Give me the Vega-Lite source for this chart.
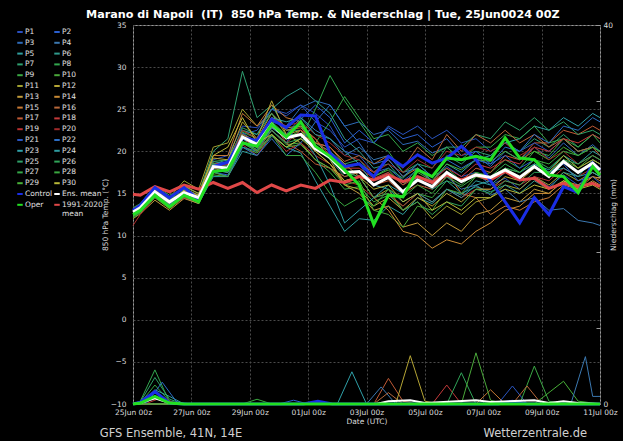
{
"$schema":"https://vega.github.io/schema/vega-lite/v6.json",
"width":467,"height":379,
"autosize":{"type":"none"},
"padding":{"left":133,"top":25,"right":23,"bottom":37},
"background":"#000000",
"title":{"text":"Marano di Napoli \u00a0(IT) \u00a0850 hPa Temp. & Niederschlag | Tue, 25Jun0024 00Z","anchor":"start","frame":"group","dx":-47,"dy":14,"offset":6,"fontSize":11.2,"fontWeight":"bold","color":"#ffffff","font":"DejaVu Sans","baseline":"alphabetic"},
"config":{
"font":"DejaVu Sans",
"view":{"stroke":"#9a9a9a","strokeWidth":1},
"axis":{"labelColor":"#dcdcdc","titleColor":"#dcdcdc","labelFont":"DejaVu Sans","titleFont":"DejaVu Sans","labelFontSize":7.5,"titleFontSize":7.5,"titleFontWeight":"normal","gridColor":"#4a4a4a","gridDash":[2,2],"gridWidth":1,"domain":false,"ticks":false,"tickColor":"#9a9a9a"},
"legend":{"orient":"none","legendY":3,"direction":"vertical","symbolLimit":0,"symbolType":"stroke","symbolSize":30,"symbolStrokeWidth":2,"labelFont":"DejaVu Sans","labelFontSize":7.5,"labelColor":"#e0e0e0","labelOffset":1,"rowPadding":2.8,"padding":0,"labelLimit":0}
},
"datasets":{
"mem":[
{"s":"P1","h":0,"v":12.5},{"s":"P1","h":6,"v":13.0},{"s":"P1","h":18,"v":15.0},{"s":"P1","h":30,"v":13.8},{"s":"P1","h":42,"v":15.3},{"s":"P1","h":54,"v":14.6},{"s":"P1","h":66,"v":19.0},{"s":"P1","h":78,"v":19.5},{"s":"P1","h":90,"v":23.0},{"s":"P1","h":102,"v":22.8},{"s":"P1","h":114,"v":25.0},{"s":"P1","h":126,"v":24.2},{"s":"P1","h":138,"v":25.5},{"s":"P1","h":150,"v":24.5},{"s":"P1","h":162,"v":23.0},{"s":"P1","h":174,"v":20.0},{"s":"P1","h":186,"v":19.5},{"s":"P1","h":198,"v":17.5},{"s":"P1","h":210,"v":18.0},{"s":"P1","h":222,"v":16.5},{"s":"P1","h":234,"v":17.8},{"s":"P1","h":246,"v":16.5},{"s":"P1","h":258,"v":18.2},{"s":"P1","h":270,"v":17.0},{"s":"P1","h":282,"v":17.5},{"s":"P1","h":294,"v":16.0},{"s":"P1","h":306,"v":16.8},{"s":"P1","h":318,"v":15.5},{"s":"P1","h":330,"v":17.0},{"s":"P1","h":342,"v":15.8},{"s":"P1","h":354,"v":17.2},{"s":"P1","h":366,"v":16.0},{"s":"P1","h":378,"v":17.5},{"s":"P1","h":384,"v":17.0},
{"s":"P2","h":0,"v":13.0},{"s":"P2","h":6,"v":13.5},{"s":"P2","h":18,"v":15.5},{"s":"P2","h":30,"v":14.2},{"s":"P2","h":42,"v":15.0},{"s":"P2","h":54,"v":14.3},{"s":"P2","h":66,"v":17.5},{"s":"P2","h":78,"v":17.2},{"s":"P2","h":90,"v":20.5},{"s":"P2","h":102,"v":20.0},{"s":"P2","h":114,"v":22.5},{"s":"P2","h":126,"v":21.0},{"s":"P2","h":138,"v":23.8},{"s":"P2","h":150,"v":25.5},{"s":"P2","h":162,"v":24.0},{"s":"P2","h":174,"v":21.0},{"s":"P2","h":186,"v":22.5},{"s":"P2","h":198,"v":21.0},{"s":"P2","h":210,"v":22.8},{"s":"P2","h":222,"v":21.5},{"s":"P2","h":234,"v":22.0},{"s":"P2","h":246,"v":20.5},{"s":"P2","h":258,"v":21.5},{"s":"P2","h":270,"v":19.5},{"s":"P2","h":282,"v":20.0},{"s":"P2","h":294,"v":18.5},{"s":"P2","h":306,"v":19.5},{"s":"P2","h":318,"v":18.0},{"s":"P2","h":330,"v":19.0},{"s":"P2","h":342,"v":17.5},{"s":"P2","h":354,"v":18.5},{"s":"P2","h":366,"v":16.5},{"s":"P2","h":378,"v":17.0},{"s":"P2","h":384,"v":16.2},
{"s":"P3","h":0,"v":12.9},{"s":"P3","h":6,"v":13.4},{"s":"P3","h":18,"v":15.4},{"s":"P3","h":30,"v":14.0},{"s":"P3","h":42,"v":15.5},{"s":"P3","h":54,"v":14.6},{"s":"P3","h":66,"v":18.8},{"s":"P3","h":78,"v":18.5},{"s":"P3","h":90,"v":22.2},{"s":"P3","h":102,"v":21.0},{"s":"P3","h":114,"v":23.5},{"s":"P3","h":126,"v":23.0},{"s":"P3","h":138,"v":25.2},{"s":"P3","h":150,"v":26.0},{"s":"P3","h":162,"v":25.5},{"s":"P3","h":174,"v":23.0},{"s":"P3","h":186,"v":23.5},{"s":"P3","h":198,"v":22.0},{"s":"P3","h":210,"v":22.5},{"s":"P3","h":222,"v":20.8},{"s":"P3","h":234,"v":21.2},{"s":"P3","h":246,"v":19.8},{"s":"P3","h":258,"v":20.5},{"s":"P3","h":270,"v":19.0},{"s":"P3","h":282,"v":19.5},{"s":"P3","h":294,"v":18.2},{"s":"P3","h":306,"v":20.0},{"s":"P3","h":318,"v":19.0},{"s":"P3","h":330,"v":20.5},{"s":"P3","h":342,"v":19.2},{"s":"P3","h":354,"v":21.0},{"s":"P3","h":366,"v":19.5},{"s":"P3","h":378,"v":20.8},{"s":"P3","h":384,"v":20.0},
{"s":"P4","h":0,"v":12.6},{"s":"P4","h":6,"v":13.2},{"s":"P4","h":18,"v":14.8},{"s":"P4","h":30,"v":13.6},{"s":"P4","h":42,"v":14.8},{"s":"P4","h":54,"v":14.2},{"s":"P4","h":66,"v":17.8},{"s":"P4","h":78,"v":17.5},{"s":"P4","h":90,"v":21.0},{"s":"P4","h":102,"v":20.2},{"s":"P4","h":114,"v":22.8},{"s":"P4","h":126,"v":22.0},{"s":"P4","h":138,"v":24.0},{"s":"P4","h":150,"v":22.5},{"s":"P4","h":162,"v":21.5},{"s":"P4","h":174,"v":19.5},{"s":"P4","h":186,"v":20.5},{"s":"P4","h":198,"v":19.0},{"s":"P4","h":210,"v":19.5},{"s":"P4","h":222,"v":17.5},{"s":"P4","h":234,"v":18.0},{"s":"P4","h":246,"v":16.5},{"s":"P4","h":258,"v":17.0},{"s":"P4","h":270,"v":15.5},{"s":"P4","h":282,"v":16.0},{"s":"P4","h":294,"v":14.8},{"s":"P4","h":306,"v":15.5},{"s":"P4","h":318,"v":14.0},{"s":"P4","h":330,"v":14.5},{"s":"P4","h":342,"v":13.0},{"s":"P4","h":354,"v":13.2},{"s":"P4","h":366,"v":11.8},{"s":"P4","h":378,"v":11.5},{"s":"P4","h":384,"v":11.2},
{"s":"P5","h":0,"v":12.3},{"s":"P5","h":6,"v":12.8},{"s":"P5","h":18,"v":14.6},{"s":"P5","h":30,"v":13.5},{"s":"P5","h":42,"v":14.5},{"s":"P5","h":54,"v":13.8},{"s":"P5","h":66,"v":17.0},{"s":"P5","h":78,"v":17.0},{"s":"P5","h":90,"v":20.0},{"s":"P5","h":102,"v":19.5},{"s":"P5","h":114,"v":21.8},{"s":"P5","h":126,"v":20.5},{"s":"P5","h":138,"v":19.8},{"s":"P5","h":150,"v":16.5},{"s":"P5","h":162,"v":13.5},{"s":"P5","h":174,"v":10.5},{"s":"P5","h":186,"v":12.0},{"s":"P5","h":198,"v":11.8},{"s":"P5","h":210,"v":13.5},{"s":"P5","h":222,"v":12.5},{"s":"P5","h":234,"v":14.5},{"s":"P5","h":246,"v":13.8},{"s":"P5","h":258,"v":15.5},{"s":"P5","h":270,"v":14.8},{"s":"P5","h":282,"v":16.5},{"s":"P5","h":294,"v":16.0},{"s":"P5","h":306,"v":17.5},{"s":"P5","h":318,"v":16.8},{"s":"P5","h":330,"v":18.5},{"s":"P5","h":342,"v":17.8},{"s":"P5","h":354,"v":19.5},{"s":"P5","h":366,"v":18.5},{"s":"P5","h":378,"v":20.0},{"s":"P5","h":384,"v":19.5},
{"s":"P6","h":0,"v":12.7},{"s":"P6","h":6,"v":13.2},{"s":"P6","h":18,"v":15.0},{"s":"P6","h":30,"v":13.9},{"s":"P6","h":42,"v":15.2},{"s":"P6","h":54,"v":14.5},{"s":"P6","h":66,"v":18.5},{"s":"P6","h":78,"v":19.0},{"s":"P6","h":90,"v":22.5},{"s":"P6","h":102,"v":22.0},{"s":"P6","h":114,"v":25.0},{"s":"P6","h":126,"v":26.5},{"s":"P6","h":138,"v":27.5},{"s":"P6","h":150,"v":26.0},{"s":"P6","h":162,"v":24.5},{"s":"P6","h":174,"v":21.5},{"s":"P6","h":186,"v":20.0},{"s":"P6","h":198,"v":18.0},{"s":"P6","h":210,"v":18.5},{"s":"P6","h":222,"v":16.5},{"s":"P6","h":234,"v":17.0},{"s":"P6","h":246,"v":15.5},{"s":"P6","h":258,"v":16.5},{"s":"P6","h":270,"v":15.0},{"s":"P6","h":282,"v":15.8},{"s":"P6","h":294,"v":15.2},{"s":"P6","h":306,"v":16.0},{"s":"P6","h":318,"v":15.0},{"s":"P6","h":330,"v":16.5},{"s":"P6","h":342,"v":15.5},{"s":"P6","h":354,"v":17.5},{"s":"P6","h":366,"v":17.0},{"s":"P6","h":378,"v":19.0},{"s":"P6","h":384,"v":18.5},
{"s":"P7","h":0,"v":12.8},{"s":"P7","h":6,"v":13.3},{"s":"P7","h":18,"v":15.5},{"s":"P7","h":30,"v":14.2},{"s":"P7","h":42,"v":15.8},{"s":"P7","h":54,"v":15.0},{"s":"P7","h":66,"v":20.0},{"s":"P7","h":78,"v":21.5},{"s":"P7","h":90,"v":29.5},{"s":"P7","h":102,"v":24.0},{"s":"P7","h":114,"v":25.5},{"s":"P7","h":126,"v":22.5},{"s":"P7","h":138,"v":23.0},{"s":"P7","h":150,"v":20.5},{"s":"P7","h":162,"v":19.0},{"s":"P7","h":174,"v":17.0},{"s":"P7","h":186,"v":17.5},{"s":"P7","h":198,"v":16.5},{"s":"P7","h":210,"v":17.5},{"s":"P7","h":222,"v":16.0},{"s":"P7","h":234,"v":18.0},{"s":"P7","h":246,"v":17.0},{"s":"P7","h":258,"v":19.5},{"s":"P7","h":270,"v":18.5},{"s":"P7","h":282,"v":20.0},{"s":"P7","h":294,"v":19.5},{"s":"P7","h":306,"v":21.0},{"s":"P7","h":318,"v":20.0},{"s":"P7","h":330,"v":21.5},{"s":"P7","h":342,"v":20.5},{"s":"P7","h":354,"v":22.0},{"s":"P7","h":366,"v":20.5},{"s":"P7","h":378,"v":22.0},{"s":"P7","h":384,"v":21.5},
{"s":"P8","h":0,"v":12.4},{"s":"P8","h":6,"v":12.9},{"s":"P8","h":18,"v":14.7},{"s":"P8","h":30,"v":13.5},{"s":"P8","h":42,"v":14.9},{"s":"P8","h":54,"v":14.2},{"s":"P8","h":66,"v":18.0},{"s":"P8","h":78,"v":18.2},{"s":"P8","h":90,"v":21.0},{"s":"P8","h":102,"v":20.0},{"s":"P8","h":114,"v":22.0},{"s":"P8","h":126,"v":20.5},{"s":"P8","h":138,"v":21.5},{"s":"P8","h":150,"v":25.0},{"s":"P8","h":162,"v":29.0},{"s":"P8","h":174,"v":26.0},{"s":"P8","h":186,"v":23.5},{"s":"P8","h":198,"v":21.0},{"s":"P8","h":210,"v":20.0},{"s":"P8","h":222,"v":17.5},{"s":"P8","h":234,"v":18.5},{"s":"P8","h":246,"v":17.0},{"s":"P8","h":258,"v":18.0},{"s":"P8","h":270,"v":16.5},{"s":"P8","h":282,"v":17.5},{"s":"P8","h":294,"v":17.0},{"s":"P8","h":306,"v":18.5},{"s":"P8","h":318,"v":17.5},{"s":"P8","h":330,"v":19.0},{"s":"P8","h":342,"v":18.0},{"s":"P8","h":354,"v":19.5},{"s":"P8","h":366,"v":18.0},{"s":"P8","h":378,"v":19.0},{"s":"P8","h":384,"v":18.5},
{"s":"P9","h":0,"v":13.1},{"s":"P9","h":6,"v":13.6},{"s":"P9","h":18,"v":15.3},{"s":"P9","h":30,"v":14.3},{"s":"P9","h":42,"v":15.3},{"s":"P9","h":54,"v":14.6},{"s":"P9","h":66,"v":18.5},{"s":"P9","h":78,"v":18.2},{"s":"P9","h":90,"v":21.5},{"s":"P9","h":102,"v":20.5},{"s":"P9","h":114,"v":22.5},{"s":"P9","h":126,"v":20.8},{"s":"P9","h":138,"v":21.0},{"s":"P9","h":150,"v":19.0},{"s":"P9","h":162,"v":17.5},{"s":"P9","h":174,"v":15.5},{"s":"P9","h":186,"v":15.8},{"s":"P9","h":198,"v":14.0},{"s":"P9","h":210,"v":14.8},{"s":"P9","h":222,"v":13.5},{"s":"P9","h":234,"v":15.0},{"s":"P9","h":246,"v":14.5},{"s":"P9","h":258,"v":16.5},{"s":"P9","h":270,"v":15.8},{"s":"P9","h":282,"v":17.0},{"s":"P9","h":294,"v":17.5},{"s":"P9","h":306,"v":19.0},{"s":"P9","h":318,"v":18.0},{"s":"P9","h":330,"v":20.0},{"s":"P9","h":342,"v":19.5},{"s":"P9","h":354,"v":21.5},{"s":"P9","h":366,"v":20.5},{"s":"P9","h":378,"v":22.0},{"s":"P9","h":384,"v":21.0},
{"s":"P10","h":0,"v":12.2},{"s":"P10","h":6,"v":12.8},{"s":"P10","h":18,"v":14.5},{"s":"P10","h":30,"v":13.2},{"s":"P10","h":42,"v":14.6},{"s":"P10","h":54,"v":14.0},{"s":"P10","h":66,"v":17.2},{"s":"P10","h":78,"v":17.0},{"s":"P10","h":90,"v":20.5},{"s":"P10","h":102,"v":19.8},{"s":"P10","h":114,"v":22.0},{"s":"P10","h":126,"v":20.5},{"s":"P10","h":138,"v":20.8},{"s":"P10","h":150,"v":19.0},{"s":"P10","h":162,"v":18.0},{"s":"P10","h":174,"v":16.0},{"s":"P10","h":186,"v":16.5},{"s":"P10","h":198,"v":13.0},{"s":"P10","h":210,"v":12.5},{"s":"P10","h":222,"v":11.0},{"s":"P10","h":234,"v":13.5},{"s":"P10","h":246,"v":13.0},{"s":"P10","h":258,"v":15.5},{"s":"P10","h":270,"v":15.0},{"s":"P10","h":282,"v":17.0},{"s":"P10","h":294,"v":16.5},{"s":"P10","h":306,"v":18.0},{"s":"P10","h":318,"v":17.0},{"s":"P10","h":330,"v":18.5},{"s":"P10","h":342,"v":17.5},{"s":"P10","h":354,"v":19.0},{"s":"P10","h":366,"v":18.0},{"s":"P10","h":378,"v":19.5},{"s":"P10","h":384,"v":19.0},
{"s":"P11","h":0,"v":12.6},{"s":"P11","h":6,"v":13.1},{"s":"P11","h":18,"v":15.8},{"s":"P11","h":30,"v":14.5},{"s":"P11","h":42,"v":16.5},{"s":"P11","h":54,"v":15.5},{"s":"P11","h":66,"v":20.5},{"s":"P11","h":78,"v":21.0},{"s":"P11","h":90,"v":25.0},{"s":"P11","h":102,"v":23.0},{"s":"P11","h":114,"v":24.5},{"s":"P11","h":126,"v":22.0},{"s":"P11","h":138,"v":21.0},{"s":"P11","h":150,"v":19.0},{"s":"P11","h":162,"v":18.0},{"s":"P11","h":174,"v":16.5},{"s":"P11","h":186,"v":17.0},{"s":"P11","h":198,"v":14.5},{"s":"P11","h":210,"v":15.5},{"s":"P11","h":222,"v":13.0},{"s":"P11","h":234,"v":14.0},{"s":"P11","h":246,"v":12.0},{"s":"P11","h":258,"v":13.5},{"s":"P11","h":270,"v":12.5},{"s":"P11","h":282,"v":14.0},{"s":"P11","h":294,"v":14.5},{"s":"P11","h":306,"v":16.0},{"s":"P11","h":318,"v":15.5},{"s":"P11","h":330,"v":17.0},{"s":"P11","h":342,"v":16.0},{"s":"P11","h":354,"v":17.5},{"s":"P11","h":366,"v":16.5},{"s":"P11","h":378,"v":17.5},{"s":"P11","h":384,"v":17.0},
{"s":"P12","h":0,"v":12.9},{"s":"P12","h":6,"v":13.4},{"s":"P12","h":18,"v":15.6},{"s":"P12","h":30,"v":14.4},{"s":"P12","h":42,"v":15.9},{"s":"P12","h":54,"v":15.0},{"s":"P12","h":66,"v":19.2},{"s":"P12","h":78,"v":19.0},{"s":"P12","h":90,"v":23.5},{"s":"P12","h":102,"v":21.5},{"s":"P12","h":114,"v":26.0},{"s":"P12","h":126,"v":22.0},{"s":"P12","h":138,"v":22.5},{"s":"P12","h":150,"v":20.0},{"s":"P12","h":162,"v":18.5},{"s":"P12","h":174,"v":16.0},{"s":"P12","h":186,"v":15.5},{"s":"P12","h":198,"v":13.5},{"s":"P12","h":210,"v":14.5},{"s":"P12","h":222,"v":13.0},{"s":"P12","h":234,"v":14.5},{"s":"P12","h":246,"v":13.5},{"s":"P12","h":258,"v":15.0},{"s":"P12","h":270,"v":14.0},{"s":"P12","h":282,"v":15.5},{"s":"P12","h":294,"v":15.5},{"s":"P12","h":306,"v":17.0},{"s":"P12","h":318,"v":16.5},{"s":"P12","h":330,"v":18.0},{"s":"P12","h":342,"v":17.5},{"s":"P12","h":354,"v":19.5},{"s":"P12","h":366,"v":18.0},{"s":"P12","h":378,"v":19.0},{"s":"P12","h":384,"v":18.5},
{"s":"P13","h":0,"v":12.0},{"s":"P13","h":6,"v":12.6},{"s":"P13","h":18,"v":14.2},{"s":"P13","h":30,"v":13.0},{"s":"P13","h":42,"v":14.4},{"s":"P13","h":54,"v":13.8},{"s":"P13","h":66,"v":17.5},{"s":"P13","h":78,"v":17.8},{"s":"P13","h":90,"v":22.5},{"s":"P13","h":102,"v":21.5},{"s":"P13","h":114,"v":24.5},{"s":"P13","h":126,"v":22.8},{"s":"P13","h":138,"v":23.0},{"s":"P13","h":150,"v":21.5},{"s":"P13","h":162,"v":19.0},{"s":"P13","h":174,"v":16.0},{"s":"P13","h":186,"v":15.0},{"s":"P13","h":198,"v":13.0},{"s":"P13","h":210,"v":13.5},{"s":"P13","h":222,"v":11.0},{"s":"P13","h":234,"v":11.5},{"s":"P13","h":246,"v":10.0},{"s":"P13","h":258,"v":11.5},{"s":"P13","h":270,"v":10.5},{"s":"P13","h":282,"v":12.5},{"s":"P13","h":294,"v":13.0},{"s":"P13","h":306,"v":14.5},{"s":"P13","h":318,"v":14.0},{"s":"P13","h":330,"v":15.5},{"s":"P13","h":342,"v":15.0},{"s":"P13","h":354,"v":16.5},{"s":"P13","h":366,"v":15.5},{"s":"P13","h":378,"v":16.5},{"s":"P13","h":384,"v":16.0},
{"s":"P14","h":0,"v":12.5},{"s":"P14","h":6,"v":13.0},{"s":"P14","h":18,"v":15.1},{"s":"P14","h":30,"v":13.9},{"s":"P14","h":42,"v":15.0},{"s":"P14","h":54,"v":14.3},{"s":"P14","h":66,"v":18.0},{"s":"P14","h":78,"v":17.5},{"s":"P14","h":90,"v":21.0},{"s":"P14","h":102,"v":20.5},{"s":"P14","h":114,"v":23.0},{"s":"P14","h":126,"v":21.5},{"s":"P14","h":138,"v":22.0},{"s":"P14","h":150,"v":21.0},{"s":"P14","h":162,"v":20.5},{"s":"P14","h":174,"v":18.5},{"s":"P14","h":186,"v":17.0},{"s":"P14","h":198,"v":14.5},{"s":"P14","h":210,"v":13.0},{"s":"P14","h":222,"v":10.5},{"s":"P14","h":234,"v":10.0},{"s":"P14","h":246,"v":8.5},{"s":"P14","h":258,"v":9.5},{"s":"P14","h":270,"v":9.0},{"s":"P14","h":282,"v":10.5},{"s":"P14","h":294,"v":11.5},{"s":"P14","h":306,"v":13.0},{"s":"P14","h":318,"v":13.5},{"s":"P14","h":330,"v":15.0},{"s":"P14","h":342,"v":15.0},{"s":"P14","h":354,"v":16.5},{"s":"P14","h":366,"v":16.0},{"s":"P14","h":378,"v":17.0},{"s":"P14","h":384,"v":16.8},
{"s":"P15","h":0,"v":13.2},{"s":"P15","h":6,"v":13.7},{"s":"P15","h":18,"v":15.7},{"s":"P15","h":30,"v":14.5},{"s":"P15","h":42,"v":15.6},{"s":"P15","h":54,"v":14.8},{"s":"P15","h":66,"v":19.5},{"s":"P15","h":78,"v":19.5},{"s":"P15","h":90,"v":24.5},{"s":"P15","h":102,"v":23.0},{"s":"P15","h":114,"v":25.5},{"s":"P15","h":126,"v":24.0},{"s":"P15","h":138,"v":23.5},{"s":"P15","h":150,"v":21.0},{"s":"P15","h":162,"v":20.0},{"s":"P15","h":174,"v":18.0},{"s":"P15","h":186,"v":18.5},{"s":"P15","h":198,"v":17.5},{"s":"P15","h":210,"v":19.0},{"s":"P15","h":222,"v":17.0},{"s":"P15","h":234,"v":18.0},{"s":"P15","h":246,"v":16.5},{"s":"P15","h":258,"v":17.5},{"s":"P15","h":270,"v":15.0},{"s":"P15","h":282,"v":14.5},{"s":"P15","h":294,"v":12.5},{"s":"P15","h":306,"v":13.5},{"s":"P15","h":318,"v":13.0},{"s":"P15","h":330,"v":14.0},{"s":"P15","h":342,"v":14.5},{"s":"P15","h":354,"v":16.0},{"s":"P15","h":366,"v":15.5},{"s":"P15","h":378,"v":17.0},{"s":"P15","h":384,"v":16.5},
{"s":"P16","h":0,"v":12.7},{"s":"P16","h":6,"v":13.2},{"s":"P16","h":18,"v":15.0},{"s":"P16","h":30,"v":13.8},{"s":"P16","h":42,"v":15.2},{"s":"P16","h":54,"v":14.4},{"s":"P16","h":66,"v":18.3},{"s":"P16","h":78,"v":18.6},{"s":"P16","h":90,"v":22.0},{"s":"P16","h":102,"v":21.2},{"s":"P16","h":114,"v":24.0},{"s":"P16","h":126,"v":22.5},{"s":"P16","h":138,"v":22.8},{"s":"P16","h":150,"v":21.0},{"s":"P16","h":162,"v":20.5},{"s":"P16","h":174,"v":18.8},{"s":"P16","h":186,"v":19.5},{"s":"P16","h":198,"v":18.5},{"s":"P16","h":210,"v":19.5},{"s":"P16","h":222,"v":18.0},{"s":"P16","h":234,"v":20.5},{"s":"P16","h":246,"v":19.0},{"s":"P16","h":258,"v":22.0},{"s":"P16","h":270,"v":20.0},{"s":"P16","h":282,"v":22.0},{"s":"P16","h":294,"v":21.0},{"s":"P16","h":306,"v":22.5},{"s":"P16","h":318,"v":21.0},{"s":"P16","h":330,"v":22.0},{"s":"P16","h":342,"v":20.5},{"s":"P16","h":354,"v":21.5},{"s":"P16","h":366,"v":20.0},{"s":"P16","h":378,"v":20.5},{"s":"P16","h":384,"v":19.5},
{"s":"P17","h":0,"v":12.4},{"s":"P17","h":6,"v":13.0},{"s":"P17","h":18,"v":15.2},{"s":"P17","h":30,"v":14.0},{"s":"P17","h":42,"v":15.0},{"s":"P17","h":54,"v":14.5},{"s":"P17","h":66,"v":18.5},{"s":"P17","h":78,"v":18.0},{"s":"P17","h":90,"v":21.0},{"s":"P17","h":102,"v":21.5},{"s":"P17","h":114,"v":23.5},{"s":"P17","h":126,"v":21.0},{"s":"P17","h":138,"v":20.0},{"s":"P17","h":150,"v":18.5},{"s":"P17","h":162,"v":18.0},{"s":"P17","h":174,"v":17.0},{"s":"P17","h":186,"v":17.5},{"s":"P17","h":198,"v":16.0},{"s":"P17","h":210,"v":16.5},{"s":"P17","h":222,"v":15.0},{"s":"P17","h":234,"v":16.0},{"s":"P17","h":246,"v":15.5},{"s":"P17","h":258,"v":17.0},{"s":"P17","h":270,"v":16.5},{"s":"P17","h":282,"v":18.0},{"s":"P17","h":294,"v":17.5},{"s":"P17","h":306,"v":19.5},{"s":"P17","h":318,"v":19.0},{"s":"P17","h":330,"v":21.0},{"s":"P17","h":342,"v":21.0},{"s":"P17","h":354,"v":22.5},{"s":"P17","h":366,"v":22.0},{"s":"P17","h":378,"v":23.0},{"s":"P17","h":384,"v":22.5},
{"s":"P18","h":0,"v":13.0},{"s":"P18","h":6,"v":13.5},{"s":"P18","h":18,"v":15.4},{"s":"P18","h":30,"v":14.1},{"s":"P18","h":42,"v":15.3},{"s":"P18","h":54,"v":14.8},{"s":"P18","h":66,"v":18.6},{"s":"P18","h":78,"v":18.4},{"s":"P18","h":90,"v":21.8},{"s":"P18","h":102,"v":20.0},{"s":"P18","h":114,"v":22.5},{"s":"P18","h":126,"v":21.0},{"s":"P18","h":138,"v":22.5},{"s":"P18","h":150,"v":21.5},{"s":"P18","h":162,"v":19.5},{"s":"P18","h":174,"v":18.0},{"s":"P18","h":186,"v":18.0},{"s":"P18","h":198,"v":16.8},{"s":"P18","h":210,"v":17.5},{"s":"P18","h":222,"v":16.0},{"s":"P18","h":234,"v":17.0},{"s":"P18","h":246,"v":16.5},{"s":"P18","h":258,"v":18.0},{"s":"P18","h":270,"v":17.0},{"s":"P18","h":282,"v":18.5},{"s":"P18","h":294,"v":18.0},{"s":"P18","h":306,"v":19.0},{"s":"P18","h":318,"v":18.5},{"s":"P18","h":330,"v":20.5},{"s":"P18","h":342,"v":20.0},{"s":"P18","h":354,"v":21.5},{"s":"P18","h":366,"v":21.0},{"s":"P18","h":378,"v":22.0},{"s":"P18","h":384,"v":21.5},
{"s":"P19","h":0,"v":11.2},{"s":"P19","h":6,"v":12.5},{"s":"P19","h":18,"v":14.5},{"s":"P19","h":30,"v":13.2},{"s":"P19","h":42,"v":14.5},{"s":"P19","h":54,"v":14.0},{"s":"P19","h":66,"v":17.5},{"s":"P19","h":78,"v":17.0},{"s":"P19","h":90,"v":20.8},{"s":"P19","h":102,"v":19.5},{"s":"P19","h":114,"v":22.0},{"s":"P19","h":126,"v":20.0},{"s":"P19","h":138,"v":21.0},{"s":"P19","h":150,"v":19.5},{"s":"P19","h":162,"v":18.5},{"s":"P19","h":174,"v":16.5},{"s":"P19","h":186,"v":16.0},{"s":"P19","h":198,"v":14.5},{"s":"P19","h":210,"v":15.0},{"s":"P19","h":222,"v":13.5},{"s":"P19","h":234,"v":15.0},{"s":"P19","h":246,"v":14.0},{"s":"P19","h":258,"v":15.5},{"s":"P19","h":270,"v":14.5},{"s":"P19","h":282,"v":15.5},{"s":"P19","h":294,"v":15.5},{"s":"P19","h":306,"v":16.5},{"s":"P19","h":318,"v":16.0},{"s":"P19","h":330,"v":17.0},{"s":"P19","h":342,"v":16.5},{"s":"P19","h":354,"v":18.0},{"s":"P19","h":366,"v":17.0},{"s":"P19","h":378,"v":18.0},{"s":"P19","h":384,"v":17.5},
{"s":"P20","h":0,"v":12.6},{"s":"P20","h":6,"v":13.2},{"s":"P20","h":18,"v":15.3},{"s":"P20","h":30,"v":14.1},{"s":"P20","h":42,"v":15.1},{"s":"P20","h":54,"v":14.6},{"s":"P20","h":66,"v":18.0},{"s":"P20","h":78,"v":18.5},{"s":"P20","h":90,"v":22.5},{"s":"P20","h":102,"v":21.5},{"s":"P20","h":114,"v":24.0},{"s":"P20","h":126,"v":23.0},{"s":"P20","h":138,"v":23.5},{"s":"P20","h":150,"v":22.0},{"s":"P20","h":162,"v":21.0},{"s":"P20","h":174,"v":19.5},{"s":"P20","h":186,"v":19.0},{"s":"P20","h":198,"v":17.5},{"s":"P20","h":210,"v":18.5},{"s":"P20","h":222,"v":17.5},{"s":"P20","h":234,"v":19.0},{"s":"P20","h":246,"v":18.0},{"s":"P20","h":258,"v":20.0},{"s":"P20","h":270,"v":19.5},{"s":"P20","h":282,"v":20.5},{"s":"P20","h":294,"v":20.0},{"s":"P20","h":306,"v":21.0},{"s":"P20","h":318,"v":19.5},{"s":"P20","h":330,"v":20.5},{"s":"P20","h":342,"v":19.0},{"s":"P20","h":354,"v":20.0},{"s":"P20","h":366,"v":18.5},{"s":"P20","h":378,"v":19.5},{"s":"P20","h":384,"v":19.0},
{"s":"P21","h":0,"v":12.8},{"s":"P21","h":6,"v":13.3},{"s":"P21","h":18,"v":15.1},{"s":"P21","h":30,"v":13.8},{"s":"P21","h":42,"v":15.0},{"s":"P21","h":54,"v":14.4},{"s":"P21","h":66,"v":18.4},{"s":"P21","h":78,"v":18.8},{"s":"P21","h":90,"v":22.0},{"s":"P21","h":102,"v":22.5},{"s":"P21","h":114,"v":25.0},{"s":"P21","h":126,"v":24.5},{"s":"P21","h":138,"v":25.5},{"s":"P21","h":150,"v":23.5},{"s":"P21","h":162,"v":22.5},{"s":"P21","h":174,"v":20.5},{"s":"P21","h":186,"v":21.5},{"s":"P21","h":198,"v":21.0},{"s":"P21","h":210,"v":23.0},{"s":"P21","h":222,"v":22.0},{"s":"P21","h":234,"v":23.0},{"s":"P21","h":246,"v":21.5},{"s":"P21","h":258,"v":22.5},{"s":"P21","h":270,"v":21.0},{"s":"P21","h":282,"v":21.5},{"s":"P21","h":294,"v":20.0},{"s":"P21","h":306,"v":21.0},{"s":"P21","h":318,"v":20.0},{"s":"P21","h":330,"v":21.0},{"s":"P21","h":342,"v":20.0},{"s":"P21","h":354,"v":21.5},{"s":"P21","h":366,"v":20.0},{"s":"P21","h":378,"v":20.5},{"s":"P21","h":384,"v":20.0},
{"s":"P22","h":0,"v":12.5},{"s":"P22","h":6,"v":13.0},{"s":"P22","h":18,"v":14.9},{"s":"P22","h":30,"v":13.7},{"s":"P22","h":42,"v":14.8},{"s":"P22","h":54,"v":14.1},{"s":"P22","h":66,"v":17.6},{"s":"P22","h":78,"v":17.0},{"s":"P22","h":90,"v":20.5},{"s":"P22","h":102,"v":19.5},{"s":"P22","h":114,"v":21.5},{"s":"P22","h":126,"v":19.5},{"s":"P22","h":138,"v":21.0},{"s":"P22","h":150,"v":23.5},{"s":"P22","h":162,"v":25.5},{"s":"P22","h":174,"v":23.0},{"s":"P22","h":186,"v":21.0},{"s":"P22","h":198,"v":18.5},{"s":"P22","h":210,"v":19.0},{"s":"P22","h":222,"v":17.0},{"s":"P22","h":234,"v":18.5},{"s":"P22","h":246,"v":17.0},{"s":"P22","h":258,"v":19.0},{"s":"P22","h":270,"v":18.0},{"s":"P22","h":282,"v":19.0},{"s":"P22","h":294,"v":18.5},{"s":"P22","h":306,"v":20.5},{"s":"P22","h":318,"v":20.0},{"s":"P22","h":330,"v":22.0},{"s":"P22","h":342,"v":21.0},{"s":"P22","h":354,"v":23.0},{"s":"P22","h":366,"v":22.5},{"s":"P22","h":378,"v":24.0},{"s":"P22","h":384,"v":23.5},
{"s":"P23","h":0,"v":13.0},{"s":"P23","h":6,"v":13.4},{"s":"P23","h":18,"v":15.3},{"s":"P23","h":30,"v":14.0},{"s":"P23","h":42,"v":15.4},{"s":"P23","h":54,"v":14.7},{"s":"P23","h":66,"v":18.2},{"s":"P23","h":78,"v":18.0},{"s":"P23","h":90,"v":21.5},{"s":"P23","h":102,"v":20.5},{"s":"P23","h":114,"v":22.8},{"s":"P23","h":126,"v":21.5},{"s":"P23","h":138,"v":22.0},{"s":"P23","h":150,"v":19.5},{"s":"P23","h":162,"v":16.0},{"s":"P23","h":174,"v":11.5},{"s":"P23","h":186,"v":13.0},{"s":"P23","h":198,"v":14.5},{"s":"P23","h":210,"v":16.0},{"s":"P23","h":222,"v":15.0},{"s":"P23","h":234,"v":17.0},{"s":"P23","h":246,"v":16.5},{"s":"P23","h":258,"v":18.5},{"s":"P23","h":270,"v":17.5},{"s":"P23","h":282,"v":19.0},{"s":"P23","h":294,"v":19.5},{"s":"P23","h":306,"v":21.0},{"s":"P23","h":318,"v":21.5},{"s":"P23","h":330,"v":23.0},{"s":"P23","h":342,"v":22.5},{"s":"P23","h":354,"v":24.0},{"s":"P23","h":366,"v":23.0},{"s":"P23","h":378,"v":24.5},{"s":"P23","h":384,"v":24.0},
{"s":"P24","h":0,"v":12.6},{"s":"P24","h":6,"v":13.1},{"s":"P24","h":18,"v":14.9},{"s":"P24","h":30,"v":13.6},{"s":"P24","h":42,"v":14.9},{"s":"P24","h":54,"v":14.3},{"s":"P24","h":66,"v":17.8},{"s":"P24","h":78,"v":17.5},{"s":"P24","h":90,"v":20.8},{"s":"P24","h":102,"v":21.0},{"s":"P24","h":114,"v":24.0},{"s":"P24","h":126,"v":23.5},{"s":"P24","h":138,"v":24.0},{"s":"P24","h":150,"v":22.0},{"s":"P24","h":162,"v":21.5},{"s":"P24","h":174,"v":20.0},{"s":"P24","h":186,"v":18.5},{"s":"P24","h":198,"v":16.0},{"s":"P24","h":210,"v":15.5},{"s":"P24","h":222,"v":14.0},{"s":"P24","h":234,"v":15.0},{"s":"P24","h":246,"v":14.0},{"s":"P24","h":258,"v":15.5},{"s":"P24","h":270,"v":14.5},{"s":"P24","h":282,"v":16.0},{"s":"P24","h":294,"v":16.5},{"s":"P24","h":306,"v":18.0},{"s":"P24","h":318,"v":17.5},{"s":"P24","h":330,"v":18.5},{"s":"P24","h":342,"v":17.5},{"s":"P24","h":354,"v":18.0},{"s":"P24","h":366,"v":17.0},{"s":"P24","h":378,"v":17.5},{"s":"P24","h":384,"v":17.0},
{"s":"P25","h":0,"v":12.3},{"s":"P25","h":6,"v":12.9},{"s":"P25","h":18,"v":14.8},{"s":"P25","h":30,"v":13.7},{"s":"P25","h":42,"v":15.0},{"s":"P25","h":54,"v":14.4},{"s":"P25","h":66,"v":18.2},{"s":"P25","h":78,"v":18.3},{"s":"P25","h":90,"v":22.8},{"s":"P25","h":102,"v":22.0},{"s":"P25","h":114,"v":24.5},{"s":"P25","h":126,"v":22.5},{"s":"P25","h":138,"v":22.5},{"s":"P25","h":150,"v":21.0},{"s":"P25","h":162,"v":20.0},{"s":"P25","h":174,"v":18.5},{"s":"P25","h":186,"v":19.0},{"s":"P25","h":198,"v":17.0},{"s":"P25","h":210,"v":18.0},{"s":"P25","h":222,"v":16.8},{"s":"P25","h":234,"v":18.5},{"s":"P25","h":246,"v":18.0},{"s":"P25","h":258,"v":20.5},{"s":"P25","h":270,"v":20.5},{"s":"P25","h":282,"v":22.0},{"s":"P25","h":294,"v":21.5},{"s":"P25","h":306,"v":23.5},{"s":"P25","h":318,"v":22.5},{"s":"P25","h":330,"v":24.0},{"s":"P25","h":342,"v":22.5},{"s":"P25","h":354,"v":23.5},{"s":"P25","h":366,"v":22.0},{"s":"P25","h":378,"v":22.5},{"s":"P25","h":384,"v":22.0},
{"s":"P26","h":0,"v":12.9},{"s":"P26","h":6,"v":13.4},{"s":"P26","h":18,"v":15.2},{"s":"P26","h":30,"v":14.1},{"s":"P26","h":42,"v":15.1},{"s":"P26","h":54,"v":14.6},{"s":"P26","h":66,"v":18.6},{"s":"P26","h":78,"v":18.0},{"s":"P26","h":90,"v":21.2},{"s":"P26","h":102,"v":20.2},{"s":"P26","h":114,"v":22.5},{"s":"P26","h":126,"v":21.0},{"s":"P26","h":138,"v":21.5},{"s":"P26","h":150,"v":20.5},{"s":"P26","h":162,"v":19.0},{"s":"P26","h":174,"v":17.5},{"s":"P26","h":186,"v":17.0},{"s":"P26","h":198,"v":14.5},{"s":"P26","h":210,"v":15.0},{"s":"P26","h":222,"v":13.0},{"s":"P26","h":234,"v":14.0},{"s":"P26","h":246,"v":12.5},{"s":"P26","h":258,"v":14.0},{"s":"P26","h":270,"v":13.5},{"s":"P26","h":282,"v":15.5},{"s":"P26","h":294,"v":15.0},{"s":"P26","h":306,"v":16.5},{"s":"P26","h":318,"v":16.0},{"s":"P26","h":330,"v":17.5},{"s":"P26","h":342,"v":17.5},{"s":"P26","h":354,"v":19.0},{"s":"P26","h":366,"v":18.5},{"s":"P26","h":378,"v":19.5},{"s":"P26","h":384,"v":19.0},
{"s":"P27","h":0,"v":13.3},{"s":"P27","h":6,"v":13.8},{"s":"P27","h":18,"v":15.9},{"s":"P27","h":30,"v":14.8},{"s":"P27","h":42,"v":15.5},{"s":"P27","h":54,"v":14.8},{"s":"P27","h":66,"v":18.8},{"s":"P27","h":78,"v":19.0},{"s":"P27","h":90,"v":22.3},{"s":"P27","h":102,"v":21.5},{"s":"P27","h":114,"v":23.5},{"s":"P27","h":126,"v":22.0},{"s":"P27","h":138,"v":22.0},{"s":"P27","h":150,"v":21.0},{"s":"P27","h":162,"v":23.5},{"s":"P27","h":174,"v":26.5},{"s":"P27","h":186,"v":24.0},{"s":"P27","h":198,"v":21.5},{"s":"P27","h":210,"v":22.0},{"s":"P27","h":222,"v":20.0},{"s":"P27","h":234,"v":21.0},{"s":"P27","h":246,"v":19.5},{"s":"P27","h":258,"v":20.5},{"s":"P27","h":270,"v":19.0},{"s":"P27","h":282,"v":20.5},{"s":"P27","h":294,"v":20.5},{"s":"P27","h":306,"v":22.0},{"s":"P27","h":318,"v":21.5},{"s":"P27","h":330,"v":23.0},{"s":"P27","h":342,"v":21.0},{"s":"P27","h":354,"v":21.5},{"s":"P27","h":366,"v":20.0},{"s":"P27","h":378,"v":20.5},{"s":"P27","h":384,"v":20.0},
{"s":"P28","h":0,"v":12.1},{"s":"P28","h":6,"v":12.7},{"s":"P28","h":18,"v":14.6},{"s":"P28","h":30,"v":13.4},{"s":"P28","h":42,"v":14.8},{"s":"P28","h":54,"v":14.1},{"s":"P28","h":66,"v":17.5},{"s":"P28","h":78,"v":17.0},{"s":"P28","h":90,"v":21.0},{"s":"P28","h":102,"v":20.0},{"s":"P28","h":114,"v":22.0},{"s":"P28","h":126,"v":19.5},{"s":"P28","h":138,"v":19.5},{"s":"P28","h":150,"v":17.5},{"s":"P28","h":162,"v":15.0},{"s":"P28","h":174,"v":13.5},{"s":"P28","h":186,"v":14.5},{"s":"P28","h":198,"v":13.5},{"s":"P28","h":210,"v":15.5},{"s":"P28","h":222,"v":14.5},{"s":"P28","h":234,"v":16.0},{"s":"P28","h":246,"v":15.0},{"s":"P28","h":258,"v":17.0},{"s":"P28","h":270,"v":16.0},{"s":"P28","h":282,"v":17.5},{"s":"P28","h":294,"v":17.0},{"s":"P28","h":306,"v":18.0},{"s":"P28","h":318,"v":17.5},{"s":"P28","h":330,"v":19.0},{"s":"P28","h":342,"v":18.5},{"s":"P28","h":354,"v":20.0},{"s":"P28","h":366,"v":19.5},{"s":"P28","h":378,"v":20.5},{"s":"P28","h":384,"v":20.0},
{"s":"P29","h":0,"v":12.7},{"s":"P29","h":6,"v":13.2},{"s":"P29","h":18,"v":15.3},{"s":"P29","h":30,"v":14.2},{"s":"P29","h":42,"v":15.2},{"s":"P29","h":54,"v":14.6},{"s":"P29","h":66,"v":18.4},{"s":"P29","h":78,"v":18.6},{"s":"P29","h":90,"v":22.0},{"s":"P29","h":102,"v":21.0},{"s":"P29","h":114,"v":23.0},{"s":"P29","h":126,"v":21.5},{"s":"P29","h":138,"v":22.5},{"s":"P29","h":150,"v":20.5},{"s":"P29","h":162,"v":19.5},{"s":"P29","h":174,"v":18.0},{"s":"P29","h":186,"v":18.5},{"s":"P29","h":198,"v":17.0},{"s":"P29","h":210,"v":17.8},{"s":"P29","h":222,"v":16.0},{"s":"P29","h":234,"v":17.5},{"s":"P29","h":246,"v":16.5},{"s":"P29","h":258,"v":18.5},{"s":"P29","h":270,"v":17.8},{"s":"P29","h":282,"v":19.0},{"s":"P29","h":294,"v":18.8},{"s":"P29","h":306,"v":20.0},{"s":"P29","h":318,"v":19.0},{"s":"P29","h":330,"v":20.0},{"s":"P29","h":342,"v":19.0},{"s":"P29","h":354,"v":20.5},{"s":"P29","h":366,"v":19.5},{"s":"P29","h":378,"v":20.5},{"s":"P29","h":384,"v":20.0},
{"s":"P30","h":0,"v":12.4},{"s":"P30","h":6,"v":13.0},{"s":"P30","h":18,"v":15.0},{"s":"P30","h":30,"v":13.8},{"s":"P30","h":42,"v":15.4},{"s":"P30","h":54,"v":14.8},{"s":"P30","h":66,"v":19.5},{"s":"P30","h":78,"v":20.5},{"s":"P30","h":90,"v":24.0},{"s":"P30","h":102,"v":21.0},{"s":"P30","h":114,"v":22.0},{"s":"P30","h":126,"v":20.5},{"s":"P30","h":138,"v":21.5},{"s":"P30","h":150,"v":20.0},{"s":"P30","h":162,"v":18.5},{"s":"P30","h":174,"v":16.5},{"s":"P30","h":186,"v":17.0},{"s":"P30","h":198,"v":15.5},{"s":"P30","h":210,"v":16.0},{"s":"P30","h":222,"v":14.0},{"s":"P30","h":234,"v":15.0},{"s":"P30","h":246,"v":13.0},{"s":"P30","h":258,"v":14.0},{"s":"P30","h":270,"v":13.0},{"s":"P30","h":282,"v":14.5},{"s":"P30","h":294,"v":14.5},{"s":"P30","h":306,"v":15.5},{"s":"P30","h":318,"v":15.0},{"s":"P30","h":330,"v":16.0},{"s":"P30","h":342,"v":15.5},{"s":"P30","h":354,"v":16.5},{"s":"P30","h":366,"v":15.5},{"s":"P30","h":378,"v":16.0},{"s":"P30","h":384,"v":15.5}
],
"main":[
{"s":"1991-2020 mean","h":0,"v":14.9},{"s":"1991-2020 mean","h":6,"v":14.8},{"s":"1991-2020 mean","h":18,"v":15.8},{"s":"1991-2020 mean","h":30,"v":15.2},{"s":"1991-2020 mean","h":42,"v":16.0},{"s":"1991-2020 mean","h":54,"v":15.5},{"s":"1991-2020 mean","h":66,"v":16.3},{"s":"1991-2020 mean","h":78,"v":15.6},{"s":"1991-2020 mean","h":90,"v":16.3},{"s":"1991-2020 mean","h":102,"v":15.1},{"s":"1991-2020 mean","h":114,"v":16.0},{"s":"1991-2020 mean","h":126,"v":15.3},{"s":"1991-2020 mean","h":138,"v":16.0},{"s":"1991-2020 mean","h":150,"v":15.6},{"s":"1991-2020 mean","h":162,"v":16.6},{"s":"1991-2020 mean","h":174,"v":16.3},{"s":"1991-2020 mean","h":186,"v":17.0},{"s":"1991-2020 mean","h":198,"v":16.6},{"s":"1991-2020 mean","h":210,"v":17.2},{"s":"1991-2020 mean","h":222,"v":16.4},{"s":"1991-2020 mean","h":234,"v":17.0},{"s":"1991-2020 mean","h":246,"v":16.3},{"s":"1991-2020 mean","h":258,"v":17.2},{"s":"1991-2020 mean","h":270,"v":16.6},{"s":"1991-2020 mean","h":282,"v":17.2},{"s":"1991-2020 mean","h":294,"v":16.6},{"s":"1991-2020 mean","h":306,"v":17.6},{"s":"1991-2020 mean","h":318,"v":16.6},{"s":"1991-2020 mean","h":330,"v":16.8},{"s":"1991-2020 mean","h":342,"v":15.6},{"s":"1991-2020 mean","h":354,"v":16.2},{"s":"1991-2020 mean","h":366,"v":15.8},{"s":"1991-2020 mean","h":378,"v":16.2},{"s":"1991-2020 mean","h":384,"v":15.8},
{"s":"Control","h":0,"v":13.0},{"s":"Control","h":6,"v":13.6},{"s":"Control","h":18,"v":15.7},{"s":"Control","h":30,"v":14.5},{"s":"Control","h":42,"v":15.7},{"s":"Control","h":54,"v":14.3},{"s":"Control","h":66,"v":18.2},{"s":"Control","h":78,"v":18.7},{"s":"Control","h":90,"v":21.6},{"s":"Control","h":102,"v":21.3},{"s":"Control","h":114,"v":23.8},{"s":"Control","h":126,"v":22.8},{"s":"Control","h":138,"v":24.3},{"s":"Control","h":150,"v":24.2},{"s":"Control","h":162,"v":19.8},{"s":"Control","h":174,"v":18.2},{"s":"Control","h":186,"v":18.5},{"s":"Control","h":198,"v":17.0},{"s":"Control","h":210,"v":19.4},{"s":"Control","h":222,"v":18.2},{"s":"Control","h":234,"v":19.6},{"s":"Control","h":246,"v":18.6},{"s":"Control","h":258,"v":19.2},{"s":"Control","h":270,"v":20.6},{"s":"Control","h":282,"v":19.0},{"s":"Control","h":294,"v":16.5},{"s":"Control","h":306,"v":14.0},{"s":"Control","h":318,"v":11.5},{"s":"Control","h":330,"v":14.5},{"s":"Control","h":342,"v":12.5},{"s":"Control","h":354,"v":15.8},{"s":"Control","h":366,"v":15.1},{"s":"Control","h":378,"v":18.6},{"s":"Control","h":384,"v":17.8},
{"s":"Ens. mean","h":0,"v":12.8},{"s":"Ens. mean","h":6,"v":13.3},{"s":"Ens. mean","h":18,"v":15.2},{"s":"Ens. mean","h":30,"v":14.0},{"s":"Ens. mean","h":42,"v":15.1},{"s":"Ens. mean","h":54,"v":14.5},{"s":"Ens. mean","h":66,"v":18.2},{"s":"Ens. mean","h":78,"v":18.0},{"s":"Ens. mean","h":90,"v":21.7},{"s":"Ens. mean","h":102,"v":20.8},{"s":"Ens. mean","h":114,"v":23.2},{"s":"Ens. mean","h":126,"v":21.6},{"s":"Ens. mean","h":138,"v":22.0},{"s":"Ens. mean","h":150,"v":20.3},{"s":"Ens. mean","h":162,"v":19.3},{"s":"Ens. mean","h":174,"v":17.5},{"s":"Ens. mean","h":186,"v":17.6},{"s":"Ens. mean","h":198,"v":16.0},{"s":"Ens. mean","h":210,"v":16.9},{"s":"Ens. mean","h":222,"v":15.2},{"s":"Ens. mean","h":234,"v":16.6},{"s":"Ens. mean","h":246,"v":15.8},{"s":"Ens. mean","h":258,"v":17.5},{"s":"Ens. mean","h":270,"v":16.4},{"s":"Ens. mean","h":282,"v":17.2},{"s":"Ens. mean","h":294,"v":16.9},{"s":"Ens. mean","h":306,"v":17.8},{"s":"Ens. mean","h":318,"v":16.9},{"s":"Ens. mean","h":330,"v":18.2},{"s":"Ens. mean","h":342,"v":17.0},{"s":"Ens. mean","h":354,"v":18.8},{"s":"Ens. mean","h":366,"v":17.5},{"s":"Ens. mean","h":378,"v":18.6},{"s":"Ens. mean","h":384,"v":17.8},
{"s":"Oper","h":0,"v":12.5},{"s":"Oper","h":6,"v":13.0},{"s":"Oper","h":18,"v":14.8},{"s":"Oper","h":30,"v":13.4},{"s":"Oper","h":42,"v":14.8},{"s":"Oper","h":54,"v":14.0},{"s":"Oper","h":66,"v":17.6},{"s":"Oper","h":78,"v":17.8},{"s":"Oper","h":90,"v":21.0},{"s":"Oper","h":102,"v":20.6},{"s":"Oper","h":114,"v":23.2},{"s":"Oper","h":126,"v":21.7},{"s":"Oper","h":138,"v":23.5},{"s":"Oper","h":150,"v":20.6},{"s":"Oper","h":162,"v":19.4},{"s":"Oper","h":174,"v":17.8},{"s":"Oper","h":186,"v":16.0},{"s":"Oper","h":198,"v":11.3},{"s":"Oper","h":210,"v":14.8},{"s":"Oper","h":222,"v":14.6},{"s":"Oper","h":234,"v":17.8},{"s":"Oper","h":246,"v":17.0},{"s":"Oper","h":258,"v":19.2},{"s":"Oper","h":270,"v":19.0},{"s":"Oper","h":282,"v":19.4},{"s":"Oper","h":294,"v":19.0},{"s":"Oper","h":306,"v":21.6},{"s":"Oper","h":318,"v":19.2},{"s":"Oper","h":330,"v":19.0},{"s":"Oper","h":342,"v":17.2},{"s":"Oper","h":354,"v":17.0},{"s":"Oper","h":366,"v":15.1},{"s":"Oper","h":378,"v":18.2},{"s":"Oper","h":384,"v":17.2}
],
"pr":[
{"s":"P8","h":0,"p":0},{"s":"P8","h":6,"p":0.3},{"s":"P8","h":18,"p":3.6},{"s":"P8","h":30,"p":0.2},{"s":"P8","h":42,"p":0},{"s":"P8","h":384,"p":0},
{"s":"P25","h":0,"p":0},{"s":"P25","h":6,"p":0.2},{"s":"P25","h":18,"p":2.8},{"s":"P25","h":30,"p":0.5},{"s":"P25","h":42,"p":0},{"s":"P25","h":384,"p":0},
{"s":"P27","h":0,"p":0},{"s":"P27","h":6,"p":0.1},{"s":"P27","h":18,"p":2.0},{"s":"P27","h":30,"p":0.3},{"s":"P27","h":42,"p":0},{"s":"P27","h":384,"p":0},
{"s":"P22","h":0,"p":0},{"s":"P22","h":12,"p":0.2},{"s":"P22","h":24,"p":2.3},{"s":"P22","h":36,"p":0.2},{"s":"P22","h":48,"p":0},{"s":"P22","h":384,"p":0},
{"s":"P5","h":0,"p":0},{"s":"P5","h":6,"p":0},{"s":"P5","h":18,"p":1.5},{"s":"P5","h":30,"p":0.8},{"s":"P5","h":42,"p":0},{"s":"P5","h":384,"p":0},
{"s":"P19","h":0,"p":0},{"s":"P19","h":12,"p":0.1},{"s":"P19","h":24,"p":0.7},{"s":"P19","h":36,"p":0},{"s":"P19","h":384,"p":0},
{"s":"P28","h":0,"p":0},{"s":"P28","h":90,"p":0},{"s":"P28","h":102,"p":0.5},{"s":"P28","h":114,"p":0},{"s":"P28","h":384,"p":0},
{"s":"P2","h":0,"p":0},{"s":"P2","h":120,"p":0},{"s":"P2","h":132,"p":0.4},{"s":"P2","h":144,"p":0},{"s":"P2","h":384,"p":0},
{"s":"P23","h":0,"p":0},{"s":"P23","h":168,"p":0},{"s":"P23","h":180,"p":3.4},{"s":"P23","h":192,"p":0},{"s":"P23","h":384,"p":0},
{"s":"P4","h":0,"p":0},{"s":"P4","h":192,"p":0},{"s":"P4","h":204,"p":1.8},{"s":"P4","h":216,"p":0},{"s":"P4","h":360,"p":0},{"s":"P4","h":372,"p":5.0},{"s":"P4","h":378,"p":0.8},{"s":"P4","h":384,"p":0.8},
{"s":"P17","h":0,"p":0},{"s":"P17","h":198,"p":0},{"s":"P17","h":210,"p":2.7},{"s":"P17","h":222,"p":0.3},{"s":"P17","h":234,"p":0},{"s":"P17","h":384,"p":0},
{"s":"P16","h":0,"p":0},{"s":"P16","h":198,"p":0},{"s":"P16","h":210,"p":1.2},{"s":"P16","h":222,"p":0},{"s":"P16","h":312,"p":0},{"s":"P16","h":324,"p":1.9},{"s":"P16","h":336,"p":0},{"s":"P16","h":384,"p":0},
{"s":"P12","h":0,"p":0},{"s":"P12","h":216,"p":0},{"s":"P12","h":228,"p":5.1},{"s":"P12","h":240,"p":0.3},{"s":"P12","h":252,"p":0},{"s":"P12","h":384,"p":0},
{"s":"P18","h":0,"p":0},{"s":"P18","h":246,"p":0},{"s":"P18","h":258,"p":2.0},{"s":"P18","h":270,"p":0},{"s":"P18","h":384,"p":0},
{"s":"P26","h":0,"p":0},{"s":"P26","h":258,"p":0},{"s":"P26","h":270,"p":3.3},{"s":"P26","h":282,"p":0},{"s":"P26","h":384,"p":0},
{"s":"P10","h":0,"p":0},{"s":"P10","h":270,"p":0},{"s":"P10","h":282,"p":5.4},{"s":"P10","h":294,"p":0.4},{"s":"P10","h":306,"p":0},{"s":"P10","h":384,"p":0},
{"s":"P15","h":0,"p":0},{"s":"P15","h":282,"p":0},{"s":"P15","h":294,"p":1.5},{"s":"P15","h":306,"p":0},{"s":"P15","h":384,"p":0},
{"s":"P21","h":0,"p":0},{"s":"P21","h":300,"p":0},{"s":"P21","h":312,"p":1.9},{"s":"P21","h":324,"p":0},{"s":"P21","h":384,"p":0},
{"s":"P9","h":0,"p":0},{"s":"P9","h":318,"p":0},{"s":"P9","h":330,"p":4.0},{"s":"P9","h":342,"p":0.3},{"s":"P9","h":354,"p":0},{"s":"P9","h":384,"p":0},
{"s":"P29","h":0,"p":0},{"s":"P29","h":330,"p":0},{"s":"P29","h":343,"p":1.3},{"s":"P29","h":354,"p":2.4},{"s":"P29","h":366,"p":0.3},{"s":"P29","h":378,"p":0.1},{"s":"P29","h":384,"p":0},
{"s":"Control","h":0,"p":0},{"s":"Control","h":6,"p":0.2},{"s":"Control","h":18,"p":1.3},{"s":"Control","h":30,"p":0.1},{"s":"Control","h":42,"p":0},{"s":"Control","h":140,"p":0},{"s":"Control","h":152,"p":0.3},{"s":"Control","h":164,"p":0},{"s":"Control","h":300,"p":0},{"s":"Control","h":312,"p":0.3},{"s":"Control","h":324,"p":0},{"s":"Control","h":384,"p":0},
{"s":"Ens. mean","h":0,"p":0},{"s":"Ens. mean","h":6,"p":0.1},{"s":"Ens. mean","h":18,"p":0.6},{"s":"Ens. mean","h":30,"p":0.1},{"s":"Ens. mean","h":42,"p":0},{"s":"Ens. mean","h":200,"p":0},{"s":"Ens. mean","h":210,"p":0.3},{"s":"Ens. mean","h":228,"p":0.4},{"s":"Ens. mean","h":240,"p":0.1},{"s":"Ens. mean","h":282,"p":0.4},{"s":"Ens. mean","h":294,"p":0.2},{"s":"Ens. mean","h":330,"p":0.4},{"s":"Ens. mean","h":342,"p":0.1},{"s":"Ens. mean","h":354,"p":0.3},{"s":"Ens. mean","h":366,"p":0.1},{"s":"Ens. mean","h":384,"p":0},
{"s":"Oper","h":0,"p":0},{"s":"Oper","h":6,"p":0.1},{"s":"Oper","h":18,"p":0.8},{"s":"Oper","h":30,"p":0.1},{"s":"Oper","h":42,"p":0},{"s":"Oper","h":384,"p":0}
]
},
"layer":[
{"layer":[
{"data":{"name":"mem"},"transform":[{"filter":{"field":"s","oneOf":["P1","P3","P5","P7","P9","P11","P13","P15","P17","P19","P21","P23","P25","P27","P29"]}}],"mark":{"type":"line","strokeWidth":1},
"encoding":{
"x":{"field":"h","type":"quantitative","scale":{"domain":[0,384],"nice":false,"zero":false},
"axis":{"title":"Date (UTC)","values":[0,24,48,72,96,120,144,168,192,216,240,264,288,312,336,360,384],"labelExpr":"datum.value % 48 == 0 ? utcFormat(1719273600000 + datum.value * 3600000, '%d%b %Hz') : ''","grid":true,"labelPadding":4,"titlePadding":2,"labelFlush":false,"labelOverlap":false}},
"y":{"field":"v","type":"quantitative","scale":{"domain":[-10,35],"nice":false,"zero":false},
"axis":{"orient":"left","title":"850 hPa Temp. (°C)","values":[-10,-5,0,5,10,15,20,25,30,35],"grid":true,"labelPadding":7,"titlePadding":1,"titleAngle":270}},
"color":{"field":"s","type":"nominal",
"scale":{"domain":["P1","P3","P5","P7","P9","P11","P13","P15","P17","P19","P21","P23","P25","P27","P29","Control","Oper"],
"range":["#2a4fbf","#2e6ab8","#2f9e9e","#2fa070","#3aa844","#a0a030","#c09a3a","#c87a35","#c05a35","#b83030","#2a55c0","#2fa0a8","#2fa068","#34a848","#48b038","#1a2ee6","#22e022"]},
"legend":{"title":null,"orient":"none","legendX":-117,"legendY":3,"direction":"vertical","symbolLimit":0}}
}},
{"data":{"name":"mem"},"transform":[{"filter":{"field":"s","oneOf":["P2","P4","P6","P8","P10","P12","P14","P16","P18","P20","P22","P24","P26","P28","P30"]}}],"mark":{"type":"line","strokeWidth":1},
"encoding":{"x":{"field":"h","type":"quantitative"},"y":{"field":"v","type":"quantitative"},
"stroke":{"field":"s","type":"nominal",
"scale":{"domain":["P2","P4","P6","P8","P10","P12","P14","P16","P18","P20","P22","P24","P26","P28","P30","Ens. mean","1991-2020 mean"],
"range":["#2a5fd0","#3b78b0","#2f9a8c","#32a84e","#4aa83a","#b5a535","#c88a35","#b8683a","#c43a3a","#a02a2a","#2c6ec4","#2f9ca0","#30a458","#3aa840","#b8b838","#ffffff","#e04848"]},
"legend":{"title":null,"orient":"none","legendX":-80,"legendY":3,"direction":"vertical","symbolLimit":0,"labelExpr":"datum.label == '1991-2020 mean' ? ['1991-2020', 'mean'] : datum.label"}}
}},
{"data":{"name":"main"},"transform":[{"filter":{"field":"s","equal":"1991-2020 mean"}}],"mark":{"type":"line","strokeWidth":3},
"encoding":{"x":{"field":"h","type":"quantitative"},"y":{"field":"v","type":"quantitative"},"stroke":{"field":"s","type":"nominal"}}},
{"data":{"name":"main"},"transform":[{"filter":{"field":"s","equal":"Control"}}],"mark":{"type":"line","strokeWidth":3},
"encoding":{"x":{"field":"h","type":"quantitative"},"y":{"field":"v","type":"quantitative"},"color":{"field":"s","type":"nominal"}}},
{"data":{"name":"main"},"transform":[{"filter":{"field":"s","equal":"Ens. mean"}}],"mark":{"type":"line","strokeWidth":3},
"encoding":{"x":{"field":"h","type":"quantitative"},"y":{"field":"v","type":"quantitative"},"stroke":{"field":"s","type":"nominal"}}},
{"data":{"name":"main"},"transform":[{"filter":{"field":"s","equal":"Oper"}}],"mark":{"type":"line","strokeWidth":3},
"encoding":{"x":{"field":"h","type":"quantitative"},"y":{"field":"v","type":"quantitative"},"color":{"field":"s","type":"nominal"}}},
{"data":{"values":[{"lab":"GFS Ensemble, 41N, 14E"}]},"mark":{"type":"text","align":"left","baseline":"alphabetic","fontSize":11.5,"color":"#d0d0d0","font":"DejaVu Sans"},
"encoding":{"x":{"datum":-27.3,"type":"quantitative"},"y":{"datum":-13.92,"type":"quantitative"},"text":{"field":"lab"}}},
{"data":{"values":[{"lab":"Wetterzentrale.de"}]},"mark":{"type":"text","align":"left","baseline":"alphabetic","fontSize":11.5,"color":"#d0d0d0","font":"DejaVu Sans"},
"encoding":{"x":{"datum":288.2,"type":"quantitative"},"y":{"datum":-13.92,"type":"quantitative"},"text":{"field":"lab"}}}
]},
{"layer":[
{"data":{"name":"pr"},"transform":[{"filter":{"field":"s","oneOf":["P25","P27","P5","P19","P23","P17","P15","P21","P9","P29"]}}],"mark":{"type":"line","strokeWidth":1},
"encoding":{"x":{"field":"h","type":"quantitative"},
"y":{"field":"p","type":"quantitative","scale":{"domain":[0,40],"nice":false,"zero":true},
"axis":{"orient":"right","title":"Niederschlag (mm)","values":[0,2,4,6,8,10,12,14,16,18,20,22,24,26,28,30,32,34,36,38,40],"labelExpr":"datum.value % 10 == 0 ? datum.label : ''","grid":false,"ticks":true,"tickSize":-4,"labelPadding":7,"titlePadding":5,"titleAngle":270}},
"color":{"field":"s","type":"nominal"}}},
{"data":{"name":"pr"},"transform":[{"filter":{"field":"s","oneOf":["P8","P22","P28","P2","P4","P16","P12","P18","P26","P10"]}}],"mark":{"type":"line","strokeWidth":1},
"encoding":{"x":{"field":"h","type":"quantitative"},"y":{"field":"p","type":"quantitative"},"stroke":{"field":"s","type":"nominal"}}},
{"data":{"name":"pr"},"transform":[{"filter":{"field":"s","equal":"Control"}}],"mark":{"type":"line","strokeWidth":3},
"encoding":{"x":{"field":"h","type":"quantitative"},"y":{"field":"p","type":"quantitative"},"color":{"field":"s","type":"nominal"}}},
{"data":{"name":"pr"},"transform":[{"filter":{"field":"s","equal":"Ens. mean"}}],"mark":{"type":"line","strokeWidth":2},
"encoding":{"x":{"field":"h","type":"quantitative"},"y":{"field":"p","type":"quantitative"},"stroke":{"field":"s","type":"nominal"}}},
{"data":{"name":"pr"},"transform":[{"filter":{"field":"s","equal":"Oper"}}],"mark":{"type":"line","strokeWidth":3},
"encoding":{"x":{"field":"h","type":"quantitative"},"y":{"field":"p","type":"quantitative"},"color":{"field":"s","type":"nominal"}}}
]}
],
"resolve":{"scale":{"y":"independent"}}
}
